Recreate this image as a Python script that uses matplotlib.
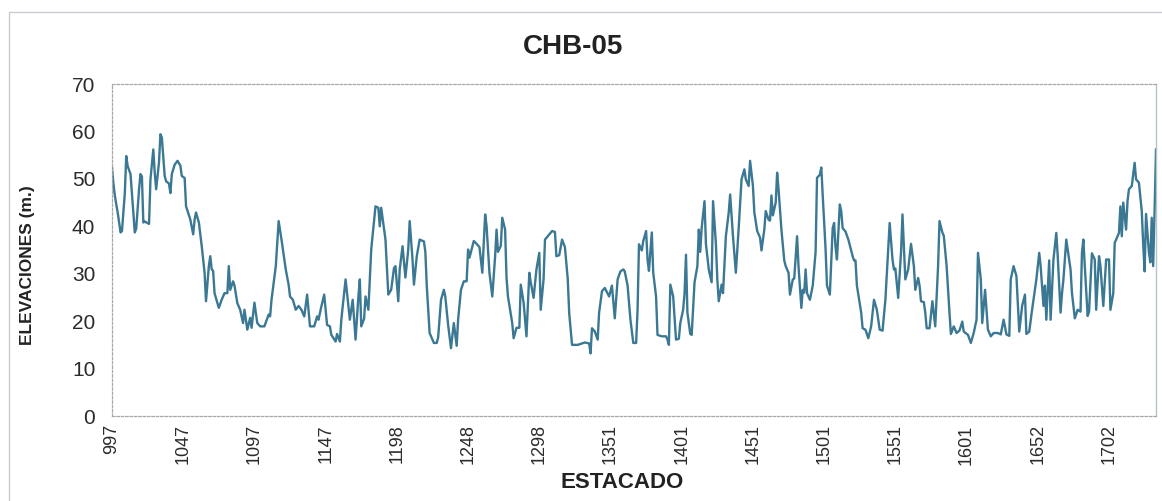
import matplotlib.pyplot as plt
from matplotlib.patches import Rectangle

plt.rcParams["font.family"] = ["Liberation Sans", "DejaVu Sans"]

# station positions (category index along the axis) and elevations in m
estaca_idx = [
    0, 1, 2, 3, 4, 6, 7, 9, 10, 11, 13, 14, 16, 17, 19, 20, 21, 22, 23, 26,
    27, 29, 30, 31, 33, 34, 35, 37, 38, 40, 41, 42, 44, 46, 48, 49, 51, 52, 55, 57,
    58, 59, 61, 63, 65, 66, 68, 69, 70, 71, 72, 75, 77, 79, 81, 82, 83, 85, 86, 88,
    90, 92, 93, 95, 97, 98, 100, 102, 104, 107, 110, 111, 112, 115, 117, 119, 122, 124, 125, 127,
    129, 131, 133, 135, 137, 139, 142, 144, 145, 147, 149, 151, 153, 154, 157, 158, 160, 161, 164, 166,
    167, 169, 171, 173, 174, 175, 177, 178, 180, 182, 185, 187, 188, 189, 192, 194, 196, 198, 199, 201,
    202, 204, 206, 208, 209, 211, 212, 214, 216, 219, 220, 221, 223, 226, 228, 229, 231, 233, 234, 236,
    238, 240, 242, 243, 245, 247, 249, 250, 251, 254, 256, 258, 260, 262, 263, 265, 267, 269, 270, 271,
    273, 274, 276, 277, 278, 281, 282, 284, 286, 287, 289, 291, 293, 294, 296, 298, 300, 301, 303, 304,
    307, 309, 311, 312, 314, 316, 318, 320, 321, 323, 327, 330, 332, 335, 336, 337, 339, 341, 342, 344,
    346, 349, 351, 353, 355, 357, 359, 360, 362, 364, 366, 368, 369, 370, 372, 373, 375, 376, 377, 379,
    380, 382, 383, 386, 389, 390, 391, 392, 394, 396, 398, 399, 401, 402, 403, 404, 406, 407, 409, 411,
    412, 413, 414, 416, 417, 419, 421, 422, 424, 425, 426, 428, 429, 431, 433, 434, 436, 438, 440, 442,
    444, 445, 447, 448, 450, 451, 453, 455, 456, 458, 459, 461, 462, 463, 464, 466, 467, 468, 470, 472,
    473, 475, 476, 478, 479, 481, 482, 484, 485, 486, 487, 488, 490, 492, 494, 495, 497, 498, 499, 501,
    502, 504, 506, 507, 508, 509, 511, 512, 513, 515, 517, 520, 521, 522, 523, 526, 527, 529, 531, 533,
    535, 537, 539, 541, 543, 546, 548, 549, 550, 552, 554, 555, 557, 559, 561, 563, 564, 566, 567, 568,
    570, 571, 572, 574, 576, 578, 580, 581, 583, 584, 586, 588, 589, 591, 593, 595, 597, 598, 601, 603,
    605, 607, 608, 610, 611, 613, 615, 617, 619, 622, 624, 626, 628, 630, 631, 633, 635, 637, 639, 641,
    642, 644, 646, 649, 651, 652, 654, 655, 656, 658, 659, 661, 663, 664, 666, 667, 668, 670, 672, 673,
    674, 676, 678, 680, 681, 682, 683, 685, 686, 688, 690, 691, 693, 694, 696, 698, 700, 701, 703, 704,
    707, 708, 709, 710, 712, 713, 714, 716, 718, 719, 721, 723, 724, 725, 726, 728, 729, 730, 731, 732,
    733,
]
elevacion = [
    52.4, 49.0, 46.5, 44.6, 42.9, 38.7, 39.0, 47.0, 54.8, 52.7, 51.0, 47.0, 38.7, 39.5, 47.8, 51.0, 50.5, 40.8, 41.0, 40.5,
    49.9, 56.2, 51.3, 47.8, 53.5, 59.4, 58.7, 50.6, 49.5, 49.0, 47.0, 51.0, 53.0, 53.8, 52.8, 50.6, 50.2, 44.2, 41.4, 38.3,
    41.4, 42.9, 40.8, 35.8, 30.2, 24.2, 31.6, 33.7, 30.9, 30.6, 25.9, 22.8, 24.5, 25.9, 25.9, 31.6, 26.6, 28.4, 27.5, 23.8,
    22.4, 19.6, 22.4, 18.2, 20.7, 18.6, 23.9, 19.6, 18.9, 18.9, 21.4, 21.0, 24.5, 31.6, 41.1, 37.2, 30.9, 27.7, 25.2, 24.5,
    22.4, 23.2, 22.4, 21.0, 25.6, 18.9, 18.9, 21.0, 20.3, 23.1, 25.6, 19.2, 18.9, 17.1, 15.7, 17.3, 15.7, 20.3, 28.8, 23.2,
    20.3, 24.5, 16.1, 25.2, 28.8, 18.9, 20.5, 25.2, 22.4, 35.1, 44.2, 43.9, 40.0, 43.9, 37.2, 25.6, 26.6, 31.2, 31.6, 24.2,
    30.9, 35.8, 29.2, 35.1, 41.1, 33.0, 27.7, 33.7, 37.2, 36.8, 34.6, 27.5, 17.5, 15.4, 15.4, 16.6, 24.5, 26.6, 25.2, 19.2,
    14.3, 19.6, 14.8, 20.3, 26.6, 28.4, 28.4, 35.1, 33.4, 36.9, 36.3, 35.6, 30.2, 42.5, 40.0, 30.2, 25.2, 33.7, 39.3, 34.6,
    35.9, 41.8, 39.3, 29.1, 25.2, 19.6, 16.4, 18.6, 18.6, 27.7, 23.9, 16.8, 30.2, 28.2, 24.9, 30.9, 34.4, 22.4, 28.8, 37.2,
    38.3, 39.0, 38.8, 33.7, 33.9, 37.2, 35.6, 28.8, 21.7, 15.0, 15.0, 15.3, 15.5, 15.3, 13.2, 18.5, 17.8, 16.1, 21.8, 26.3,
    27.0, 25.2, 27.5, 20.6, 28.8, 30.5, 30.9, 30.5, 27.5, 20.3, 15.4, 15.4, 22.4, 36.2, 34.9, 36.9, 39.0, 33.0, 30.6, 38.7,
    30.2, 25.2, 17.1, 16.8, 16.8, 16.1, 15.0, 27.7, 25.2, 16.1, 16.3, 19.6, 22.4, 25.9, 34.0, 21.8, 17.3, 17.1, 28.2, 31.6,
    39.3, 34.6, 39.6, 45.3, 36.3, 30.9, 28.2, 45.3, 36.3, 28.8, 24.2, 27.7, 25.9, 37.9, 42.9, 46.7, 37.9, 30.2, 39.6, 49.9,
    52.0, 49.9, 48.5, 53.8, 48.5, 42.9, 39.0, 37.6, 34.9, 39.3, 43.2, 41.4, 41.2, 46.5, 42.3, 45.0, 51.3, 47.8, 39.3, 32.8,
    31.6, 30.2, 25.6, 28.8, 29.0, 37.9, 31.6, 22.8, 26.6, 26.0, 30.9, 25.9, 24.5, 27.5, 34.6, 50.2, 50.9, 52.4, 46.5, 35.2,
    27.5, 25.6, 39.6, 40.7, 35.6, 33.0, 44.6, 43.2, 39.6, 38.9, 37.2, 33.7, 32.8, 32.8, 27.5, 21.8, 18.5, 18.2, 16.4, 18.9,
    24.5, 22.4, 18.2, 18.0, 24.5, 40.7, 33.0, 30.9, 31.1, 24.9, 34.6, 42.5, 28.8, 30.9, 36.3, 31.6, 26.6, 29.1, 27.5, 24.2,
    24.0, 21.8, 18.5, 18.5, 24.2, 18.9, 31.6, 41.1, 38.7, 38.0, 31.6, 21.8, 17.3, 18.9, 17.5, 18.0, 19.9, 17.8, 17.1, 15.4,
    17.5, 20.3, 34.4, 28.8, 19.6, 26.6, 18.2, 16.8, 17.5, 17.5, 17.2, 20.3, 17.2, 16.9, 28.8, 31.6, 29.5, 17.8, 23.2, 25.6,
    17.3, 17.8, 22.4, 28.8, 34.4, 31.6, 23.2, 27.5, 20.3, 32.8, 20.3, 33.0, 38.6, 33.7, 21.8, 25.9, 28.8, 37.2, 33.0, 30.9,
    25.9, 20.6, 22.4, 22.0, 34.4, 37.2, 31.6, 21.1, 22.0, 34.3, 33.0, 22.4, 33.7, 31.6, 23.2, 33.0, 33.0, 22.4, 25.9, 36.5,
    38.6, 44.2, 37.9, 45.0, 39.3, 45.3, 47.8, 48.5, 53.4, 49.9, 49.2, 43.2, 36.3, 30.5, 42.6, 34.6, 32.4, 41.8, 31.6, 43.2,
    56.2,
]

tick_idx = list(range(0, 701, 50))
tick_labels = ["997", "1047", "1097", "1147", "1198", "1248", "1298", "1351",
               "1401", "1451", "1501", "1551", "1601", "1652", "1702"]

W, H = 1162, 501
fig = plt.figure(figsize=(W / 100, H / 100), dpi=100)
fig.patch.set_facecolor("white")

# light outer chart frame
fig.patches.append(Rectangle((9 / W, -0.02), 1.02, 1 - 12 / H + 0.02,
                             transform=fig.transFigure, fill=False,
                             edgecolor="#c9cdd2", linewidth=1.0))

ax = fig.add_axes([112 / W, 85 / H, (1156 - 112) / W, (416 - 84) / H])
ax.plot(estaca_idx, elevacion, color="#3a7893", linewidth=1.7,
        solid_joinstyle="round")

ax.set_xlim(0, 733)
ax.set_ylim(0, 70)
ax.set_yticks(range(0, 71, 10))
ax.set_xticks(tick_idx)
ax.set_xticklabels(tick_labels, rotation=90, fontsize=13, color="#2b2b2b")
ax.tick_params(axis="y", labelsize=15, length=0, pad=12, labelcolor="#2b2b2b")
ax.tick_params(axis="x", length=0, pad=6)

for side in ("top", "bottom", "left"):
    ax.spines[side].set_color("#a8a8a8")
    ax.spines[side].set_linestyle((0, (2, 1.5)))
    ax.spines[side].set_linewidth(0.9)
ax.spines["right"].set_color("#b6c3ca")
ax.spines["right"].set_linewidth(1.0)

fig.text(573 / W, 1 - 47 / H, "CHB-05", ha="center", va="center",
         fontsize=20, fontweight="bold", color="#222222")
fig.text(28 / W, 1 - 265 / H, "ELEVACIONES (m.)", rotation=90, ha="center",
         va="center", fontsize=12.5, fontweight="bold", color="#222222")
fig.text(622 / W, 1 - 483 / H, "ESTACADO", ha="center", va="center",
         fontsize=16, fontweight="bold", color="#222222")

fig.savefig("out.png", dpi=100)
